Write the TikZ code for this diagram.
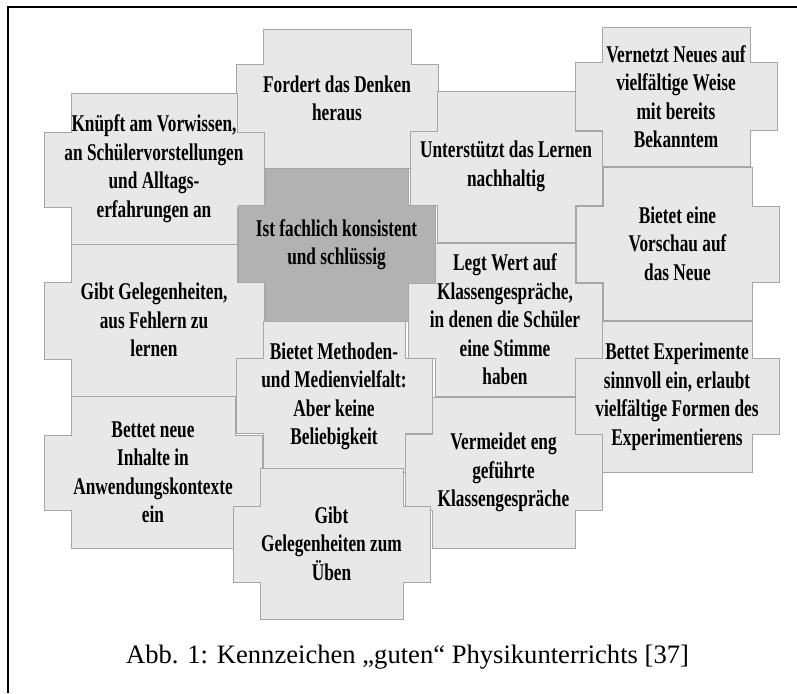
\documentclass[tikz,border=0pt]{standalone}
\usepackage{fontspec}
\setmainfont{Liberation Serif}
\newfontfamily\tilefont{Liberation Serif}[FakeStretch=0.72]

\tikzset{
  tilebox/.style={draw=black!35, line width=0.8pt, fill=black!9},
  corebox/.style={tilebox, fill=black!30},
  tiletext/.style={font=\tilefont\bfseries\fontsize{24}{28.5}\selectfont, align=center, inner sep=0pt}
}

% #1 style, #2 name, #3 left, #4 top, #5 right, #6 bottom, #7 tab top, #8 tab bottom, #9 text
\newcommand{\puzzletile}[9]{%
  \draw[#1] (#3,#4) -- (#5,#4) -- (#5,#7) -- ++(27,0) |- (#5,#8) -- (#5,#6)
    -- (#3,#6) -- (#3,#8) -- ++(-27,0) |- (#3,#7) -- cycle;
  \node[tiletext] (#2) at ({(#3+#5)/2},{(#4+#6)/2}) {#9};
}

\begin{document}
\begin{tikzpicture}[x=1pt, y=-1pt]
\useasboundingbox (0,0) rectangle (797,693);
\draw[line width=2pt] (7.5,693) -- (7.5,7.5) -- (797,7.5);

\puzzletile{tilebox}{denken}{263}{29}{411}{168}{64}{132}{Fordert das Denken\\heraus}
\puzzletile{tilebox}{vernetzt}{602}{27}{750}{166}{62}{130}{Vernetzt Neues auf\\vielfältige Weise\\mit bereits\\Bekanntem}
\puzzletile{tilebox}{vorwissen}{71}{93}{237}{244}{132}{207}{Knüpft am Vorwissen,\\an Schülervorstellungen\\und Alltags-\\erfahrungen an}
\puzzletile{tilebox}{nachhaltig}{437}{91}{575}{242}{131}{205}{Unterstützt das Lernen\\nachhaltig}
\puzzletile{corebox}{konsistent}{265}{168}{408}{321}{205}{283}{Ist fachlich konsistent\\und schlüssig}
\puzzletile{tilebox}{vorschau}{603}{167}{752}{320}{206}{282}{Bietet eine\\Vorschau auf\\das Neue}
\puzzletile{tilebox}{fehler}{71}{244}{237}{396}{282}{359}{Gibt Gelegenheiten,\\aus Fehlern zu\\lernen}
\puzzletile{tilebox}{gespraeche}{435}{243}{575}{396}{283}{358}{Legt Wert auf\\Klassengespräche,\\in denen die Schüler\\eine Stimme\\haben}
\puzzletile{tilebox}{methoden}{263}{321}{405}{472}{358}{433}{Bietet Methoden-\\und Medienvielfalt:\\Aber keine\\Beliebigkeit}
\puzzletile{tilebox}{experimente}{602}{321}{752}{472}{358}{434}{Bettet Experimente\\sinnvoll ein, erlaubt\\vielfältige Formen des\\Experimentierens}
\puzzletile{tilebox}{kontexte}{71}{396}{235}{548}{435}{510}{Bettet neue\\Inhalte in\\Anwendungskontexte\\ein}
\puzzletile{tilebox}{gefuehrt}{432}{397}{575}{548}{434}{510}{Vermeidet eng\\geführte\\Klassengespräche}
\puzzletile{tilebox}{ueben}{260}{468}{403}{619}{506}{582}{Gibt\\Gelegenheiten zum\\Üben}

\node[font=\fontsize{26.6}{31}\selectfont] (caption) at (407.5,657) {Abb. 1: Kennzeichen „guten“ Physikunterrichts [37]};
\end{tikzpicture}
\end{document}
